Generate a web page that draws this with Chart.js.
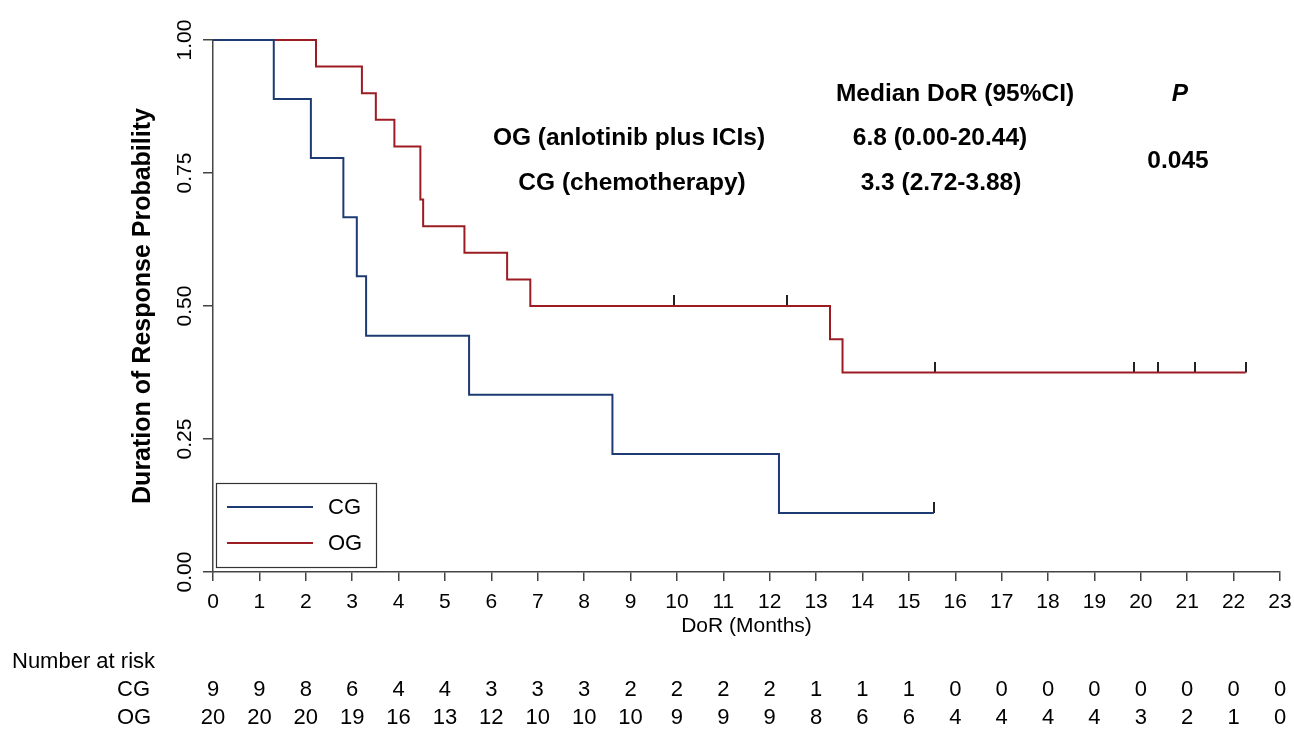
<!DOCTYPE html>
<html>
<head>
<meta charset="utf-8">
<title>Duration of Response</title>
<script src="https://cdn.jsdelivr.net/npm/chart.js@4.4.1/dist/chart.umd.min.js"></script>
<style>
    html, body { margin: 0; padding: 0; background: #ffffff; }
    #wrap { width: 1294px; height: 729px; }
</style>
</head>
<body>
<div id="wrap"><canvas id="kmChart" width="1294" height="729"></canvas></div>
<script>
// Kaplan-Meier steps (months, survival)
const cgTimes = [0, 1.31, 2.11, 2.81, 3.10, 3.30, 5.52, 8.61, 12.20, 15.54];
const cgSurv = [1, 0.889, 0.778, 0.667, 0.556, 0.444, 0.333, 0.222, 0.111, 0.111];
const ogTimes = [0, 2.22, 3.21, 3.51, 3.91, 4.47, 4.53, 5.42, 6.34, 6.84, 13.30, 13.57, 22.26];
const ogSurv = [1, 0.95, 0.90, 0.85, 0.80, 0.70, 0.65, 0.60, 0.55, 0.50, 0.4375, 0.375, 0.375];

// censored observations
const cgCensorTimes = [15.54];
const cgCensorSurv = [0.111];
const ogCensorTimes = [9.93, 12.38, 15.56, 19.86, 20.38, 21.16, 22.26];
const ogCensorSurv = [0.50, 0.50, 0.375, 0.375, 0.375, 0.375, 0.375];

// number at risk table
const riskMonths = [0, 1, 2, 3, 4, 5, 6, 7, 8, 9, 10, 11, 12, 13, 14, 15, 16, 17, 18, 19, 20, 21, 22, 23];
const cgRisk = [9, 9, 8, 6, 4, 4, 3, 3, 3, 2, 2, 2, 2, 1, 1, 1, 0, 0, 0, 0, 0, 0, 0, 0];
const ogRisk = [20, 20, 20, 19, 16, 13, 12, 10, 10, 10, 9, 9, 9, 8, 6, 6, 4, 4, 4, 4, 3, 2, 1, 0];

const yTicks = [0, 0.25, 0.5, 0.75, 1];

const blue = "#1d3b72";
const red = "#9b1c23";
const axisColor = "#444444";

function toPoints(xs, ys) {
    return xs.map((x, i) => ({ x: x, y: ys[i] }));
}

// small upward tick used as censor mark
function censorMark() {
    const c = document.createElement("canvas");
    c.width = 2;
    c.height = 22;
    const g = c.getContext("2d");
    g.fillStyle = "#222222";
    g.fillRect(0, 0, 2, 11);
    return c;
}
const mark = censorMark();

const overlayPlugin = {
    id: "overlay",
    afterDatasetsDraw(chart) {
        const ctx = chart.ctx;
        // legend box
        ctx.save();
        ctx.fillStyle = "#ffffff";
        ctx.fillRect(216, 483, 160, 84);
        ctx.strokeStyle = "#333333";
        ctx.lineWidth = 1.2;
        ctx.strokeRect(216.5, 483.5, 160, 84);
        const rows = [["CG", blue, 507], ["OG", red, 543]];
        ctx.font = "22px 'Liberation Sans', Arial, sans-serif";
        ctx.textBaseline = "middle";
        ctx.textAlign = "left";
        rows.forEach(([label, color, y]) => {
            ctx.strokeStyle = color;
            ctx.lineWidth = 2;
            ctx.beginPath();
            ctx.moveTo(227, y);
            ctx.lineTo(313, y);
            ctx.stroke();
            ctx.fillStyle = "#000000";
            ctx.fillText(label, 328, y + 1);
        });
        ctx.restore();
    },
    afterDraw(chart) {
        const ctx = chart.ctx;
        const x = chart.scales.x;
        ctx.save();
        ctx.fillStyle = "#000000";
        ctx.textBaseline = "middle";
        ctx.textAlign = "center";

        // median table
        ctx.font = "bold 24.5px 'Liberation Sans', Arial, sans-serif";
        ctx.fillText("Median DoR (95%CI)", 955, 94);
        ctx.fillText("OG (anlotinib plus ICIs)", 629, 138);
        ctx.fillText("6.8 (0.00-20.44)", 940, 138);
        ctx.fillText("CG (chemotherapy)", 632, 183);
        ctx.fillText("3.3 (2.72-3.88)", 941, 183);
        ctx.fillText("0.045", 1178, 161);
        ctx.font = "italic bold 24.5px 'Liberation Sans', Arial, sans-serif";
        ctx.fillText("P", 1180, 94);

        // number at risk
        ctx.font = "22px 'Liberation Sans', Arial, sans-serif";
        ctx.textAlign = "left";
        ctx.fillText("Number at risk", 12, 662);
        ctx.fillText("CG", 117, 690);
        ctx.fillText("OG", 117, 718);
        ctx.textAlign = "center";
        riskMonths.forEach((m, i) => {
            const px = x.getPixelForValue(m);
            ctx.fillText(String(cgRisk[i]), px, 690);
            ctx.fillText(String(ogRisk[i]), px, 718);
        });
        ctx.restore();
    }
};

Chart.defaults.font.family = "'Liberation Sans', Arial, sans-serif";
Chart.defaults.color = "#000000";

new Chart(document.getElementById("kmChart"), {
    type: "line",
    data: {
        datasets: [
            {
                label: "CG",
                data: toPoints(cgTimes, cgSurv),
                borderColor: blue,
                borderWidth: 2,
                stepped: true,
                pointRadius: 0,
                fill: false,
                clip: false
            },
            {
                label: "OG",
                data: toPoints(ogTimes, ogSurv),
                borderColor: red,
                borderWidth: 2,
                stepped: true,
                pointRadius: 0,
                fill: false,
                clip: false
            },
            {
                label: "CG censored",
                data: toPoints(cgCensorTimes, cgCensorSurv),
                showLine: false,
                pointStyle: mark,
                pointRadius: 6,
                clip: false
            },
            {
                label: "OG censored",
                data: toPoints(ogCensorTimes, ogCensorSurv),
                showLine: false,
                pointStyle: mark,
                pointRadius: 6,
                clip: false
            }
        ]
    },
    options: {
        responsive: false,
        animation: false,
        layout: { padding: { left: 0, top: 40, right: 14, bottom: 0 } },
        plugins: {
            legend: { display: false },
            tooltip: { enabled: false }
        },
        scales: {
            x: {
                type: "linear",
                min: 0,
                max: 23,
                ticks: {
                    stepSize: 1,
                    padding: 9,
                    font: { size: 21 },
                    color: "#000000"
                },
                grid: { drawOnChartArea: false, color: axisColor, lineWidth: 1.5, tickLength: 9 },
                border: { display: true, color: axisColor, width: 1.5 },
                title: {
                    display: true,
                    text: "DoR (Months)",
                    font: { size: 21 },
                    color: "#000000",
                    padding: { top: 0, bottom: 90 }
                },
                afterFit(scale) {
                    scale.height = 157;
                    scale.paddingLeft = 0;
                    scale.paddingRight = 0;
                }
            },
            y: {
                type: "linear",
                min: 0,
                max: 1,
                afterBuildTicks(scale) {
                    scale.ticks = yTicks.map((v) => ({ value: v }));
                },
                ticks: {
                    minRotation: 90,
                    maxRotation: 90,
                    crossAlign: "center",
                    padding: -3,
                    font: { size: 21 },
                    color: "#000000",
                    callback: (v) => Number(v).toFixed(2)
                },
                grid: { drawOnChartArea: false, color: axisColor, lineWidth: 1.5, tickLength: 10 },
                border: { display: true, color: axisColor, width: 1.5 },
                title: {
                    display: true,
                    text: "Duration of Response Probability",
                    font: { size: 25, weight: "bold" },
                    color: "#000000",
                    padding: { top: 128, bottom: 0 }
                },
                afterFit(scale) {
                    scale.width = 213;
                    scale.paddingTop = 0;
                    scale.paddingBottom = 0;
                }
            }
        }
    },
    plugins: [overlayPlugin]
});
</script>
</body>
</html>
